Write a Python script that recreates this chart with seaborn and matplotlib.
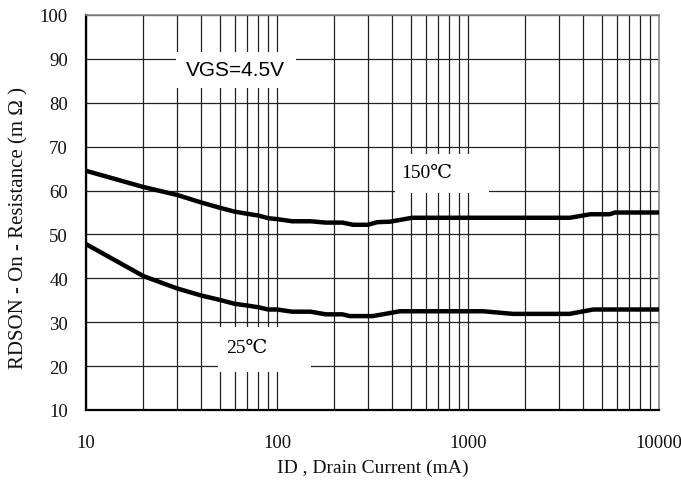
import matplotlib
matplotlib.use("Agg")
import matplotlib.pyplot as plt
import matplotlib.patches as mpatches
import seaborn as sns
import pandas as pd
import numpy as np
from matplotlib.ticker import LogLocator, FixedLocator, NullFormatter

# Data
id_150 = [10, 20, 30, 40, 50, 60, 70, 80, 90, 100, 120, 150, 180, 220, 250, 300, 335, 390, 510, 1000, 2000, 3420, 4360, 5500, 5900, 10000]
r_150 = [64.5, 60.8, 59.0, 57.3, 56.1, 55.2, 54.7, 54.3, 53.7, 53.5, 53.0, 53.0, 52.7, 52.7, 52.2, 52.2, 52.8, 52.9, 53.8, 53.8, 53.8, 53.8, 54.6, 54.6, 55.0, 55.0]
id_25 = [10, 20, 30, 40, 50, 60, 70, 80, 90, 100, 120, 150, 180, 220, 240, 318, 440, 1200, 1720, 3400, 4530, 10000]
r_25 = [47.8, 40.5, 37.7, 36.1, 35.1, 34.2, 33.8, 33.4, 32.9, 32.9, 32.4, 32.4, 31.8, 31.8, 31.4, 31.4, 32.5, 32.5, 31.9, 31.9, 32.9, 32.9]
x_ticks = [10, 100, 1000, 10000]
y_ticks = [10, 20, 30, 40, 50, 60, 70, 80, 90, 100]

df = pd.concat([
    pd.DataFrame({"ID": id_150, "R": r_150, "T": "150"}),
    pd.DataFrame({"ID": id_25, "R": r_25, "T": "25"}),
])

sns.set_theme(style="white")
serif = ["Liberation Serif", "DejaVu Serif"]

fig = plt.figure(figsize=(6.81, 4.81), dpi=100)
ax = fig.add_axes([86/681, 1-411/481, (659-86)/681, (411-16)/481])

sns.lineplot(data=df, x="ID", y="R", hue="T", palette={"150": "black", "25": "black"},
             linewidth=3.2, legend=False, ax=ax, zorder=5, estimator=None, sort=False)

ax.set_xscale("log")
ax.set_xlim(10, 10000)
ax.set_ylim(10, 100)
ax.xaxis.set_major_locator(FixedLocator(x_ticks))
ax.xaxis.set_minor_locator(LogLocator(base=10, subs=np.arange(2, 10)))
ax.xaxis.set_minor_formatter(NullFormatter())
ax.set_xticks(x_ticks)
ax.set_xticklabels([str(t) for t in x_ticks])
ax.set_yticks(y_ticks)
ax.set_yticklabels([str(t) for t in y_ticks])
ax.grid(True, which="major", axis="both", color="#222222", linewidth=0.9)
ax.grid(True, which="minor", axis="x", color="#222222", linewidth=0.9)
ax.tick_params(which="both", length=0)
ax.tick_params(axis="x", pad=17)
ax.tick_params(axis="y", pad=13)
for lab in ax.get_xticklabels() + ax.get_yticklabels():
    lab.set_family(serif)
    lab.set_fontsize(13.5)
    lab.set_color("#111111")
for s in ["left", "bottom"]:
    ax.spines[s].set_color("black")
    ax.spines[s].set_linewidth(1.6)
for s in ["top", "right"]:
    ax.spines[s].set_color("#888888")
    ax.spines[s].set_linewidth(1.2)

ax.set_xlabel("ID , Drain Current (mA)", family=serif, fontsize=14, color="#111111")
ax.xaxis.set_label_coords(0.5, -0.122)
ax.set_ylabel("RDSON - On - Resistance (m Ω )", family=serif, fontsize=15, color="#111111")
ax.yaxis.set_label_coords(-0.10, 0.463)

# white label boxes (axes-fraction positions)
for (x0, y0, x1, y1) in [(0.157, 0.815, 0.3665, 0.906),
                         (0.539, 0.549, 0.703, 0.648),
                         (0.230, 0.096, 0.393, 0.210)]:
    ax.add_patch(mpatches.Rectangle((x0, y0), x1 - x0, y1 - y0, transform=ax.transAxes,
                                    facecolor="white", edgecolor="none", zorder=4))

ax.text(0.260, 0.861, "VGS=4.5V", transform=ax.transAxes, ha="center", va="center",
        family=["Liberation Sans", "DejaVu Sans"], fontsize=15, color="black", zorder=6)
ax.text(0.595, 0.6025, "150℃", transform=ax.transAxes, ha="center", va="center",
        family=serif, fontsize=14, color="black", zorder=6)
ax.text(0.281, 0.159, "25℃", transform=ax.transAxes, ha="center", va="center",
        family=serif, fontsize=14, color="black", zorder=6)

fig.savefig("out.png", dpi=100)
